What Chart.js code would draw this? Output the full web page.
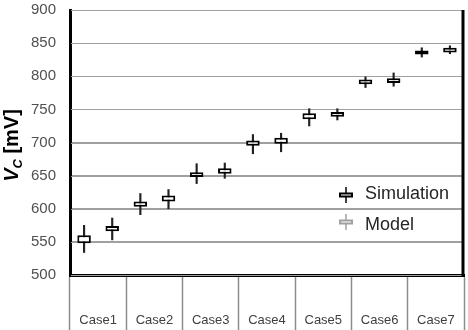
<!DOCTYPE html>
<html>
<head>
<meta charset="utf-8">
<script src="https://cdn.jsdelivr.net/npm/chart.js@4/dist/chart.umd.min.js"></script>
<style>
  html, body { margin: 0; padding: 0; background: #fff; }
  #wrap { width: 468px; height: 330px; }
</style>
</head>
<body>
<div id="wrap"><canvas id="vcChart" width="468" height="330"></canvas></div>
<script>
// categories and series
var cases = ['Case1', 'Case2', 'Case3', 'Case4', 'Case5', 'Case6', 'Case7'];
var seriesNames = ['Simulation', 'Model'];

// box = [lower, upper] of the box, whisker = [min, max], in mV
var simBox = [[548, 560], [603, 611], [648, 655], [695, 703], [735, 744], [788, 795], [833, 839]];
var simWhisker = [[534, 575], [591, 623], [638, 668], [683, 712], [725, 751], [783, 799], [829, 843]];
var modelBox = [[566, 574], [611, 620], [653, 661], [698, 707], [739, 746], [790, 797], [836, 843]];
var modelWhisker = [[553, 586], [600, 629], [646, 669], [686, 714], [734, 751], [785, 805], [834, 846]];

// y axis ticks
var yMin = 500;
var yMax = 900;
var yStep = 50;

var FONT = '"Liberation Sans", Arial, sans-serif';
var GRID_COLOR = '#a0a0a0';

var extrasPlugin = {
  id: 'vcExtras',
  // horizontal grid lines from the y scale ticks, under the boxes
  beforeDatasetsDraw: function(chart) {
    var c = chart.ctx;
    var area = chart.chartArea;
    var yScale = chart.scales.y;
    c.save();
    c.strokeStyle = GRID_COLOR;
    c.lineWidth = 1;
    yScale.ticks.forEach(function(t) {
      var py = Math.round(yScale.getPixelForValue(t.value)) + 0.5;
      c.beginPath();
      c.moveTo(area.left + 1, py);
      c.lineTo(area.right, py);
      c.stroke();
    });
    c.restore();
  },
  afterDraw: function(chart) {
    var c = chart.ctx;
    var area = chart.chartArea;

    // right frame line
    c.save();
    c.strokeStyle = '#000';
    c.lineWidth = 3;
    c.beginPath();
    c.moveTo(area.right - 1, area.top);
    c.lineTo(area.right - 1, area.bottom + 1);
    c.stroke();
    c.restore();

    // y axis title: V_C [mV]
    c.save();
    c.translate(18, (area.top + area.bottom) / 2 + 3);
    c.rotate(-Math.PI / 2);
    c.fillStyle = '#000';
    c.textBaseline = 'alphabetic';
    var big = 'italic bold 20px ' + FONT;
    var sub = 'italic bold 13px ' + FONT;
    var rest = 'bold 20px ' + FONT;
    c.font = big;
    var w1 = c.measureText('V').width;
    c.font = sub;
    var w2 = c.measureText('C').width;
    c.font = rest;
    var w3 = c.measureText(' [mV]').width;
    var x0 = -(w1 + w2 + w3) / 2;
    c.font = big;
    c.fillText('V', x0, 0);
    c.font = sub;
    c.fillText('C', x0 + w1, 4);
    c.font = rest;
    c.fillText(' [mV]', x0 + w1 + w2, 0);
    c.restore();

    // legend
    c.save();
    var legendColors = ['#000', '#a0a0a0'];
    var symY = [195, 222];
    var textY = [194, 225];
    var symX = area.right - 118;
    for (var i = 0; i < seriesNames.length; i++) {
      c.fillStyle = legendColors[i];
      c.fillRect(symX - 0.75, symY[i] - 8, 1.5, 16);
      c.fillRect(symX - 7, symY[i] - 2.5, 14, 5);
      c.fillStyle = '#fff';
      c.fillRect(symX - 5, symY[i] - 0.5, 10, 1);
      c.fillStyle = '#262626';
      c.font = '18px ' + FONT;
      c.textBaseline = 'middle';
      c.textAlign = 'left';
      c.fillText(seriesNames[i], symX + 19, textY[i]);
    }
    c.restore();
  }
};

var boxStyle = {
  backgroundColor: '#fff',
  borderColor: '#000',
  borderWidth: 2,
  borderSkipped: false,
  barPercentage: 0.48,
  categoryPercentage: 1
};
var whiskerStyle = {
  backgroundColor: '#222',
  borderWidth: 0,
  barPercentage: 1,
  categoryPercentage: 1,
  maxBarThickness: 1.5
};

var chart = new Chart(document.getElementById('vcChart').getContext('2d'), {
  type: 'bar',
  data: {
    labels: cases,
    datasets: [
      Object.assign({ label: seriesNames[0], data: simBox, stack: 'sim' }, boxStyle),
      Object.assign({ label: seriesNames[1], data: modelBox, stack: 'model' }, boxStyle),
      Object.assign({ label: seriesNames[0] + ' range', data: simWhisker, stack: 'sim' }, whiskerStyle),
      Object.assign({ label: seriesNames[1] + ' range', data: modelWhisker, stack: 'model' }, whiskerStyle)
    ]
  },
  options: {
    responsive: false,
    animation: false,
    devicePixelRatio: 1,
    layout: { padding: { left: 0, right: 4, top: 10, bottom: 0 } },
    plugins: { legend: { display: false }, tooltip: { enabled: false } },
    scales: {
      x: {
        grid: { offset: true, drawOnChartArea: false, tickLength: 60, tickWidth: 1.5, tickColor: '#8c8c8c' },
        border: { color: '#000', width: 3 },
        ticks: { padding: -22, color: '#404040', font: { family: FONT, size: 13 } },
        afterFit: function(s) { s.height = 55; }
      },
      y: {
        stacked: false,
        min: yMin,
        max: yMax,
        grid: { color: GRID_COLOR, lineWidth: 1, drawTicks: false, tickLength: 0 },
        border: { display: true, color: '#000', width: 3 },
        ticks: { stepSize: yStep, padding: 14, color: '#505050', font: { family: FONT, size: 15 } },
        afterFit: function(s) { s.width = 70; s.paddingTop = 0; s.paddingBottom = 0; }
      }
    }
  },
  plugins: [extrasPlugin]
});
</script>
</body>
</html>
